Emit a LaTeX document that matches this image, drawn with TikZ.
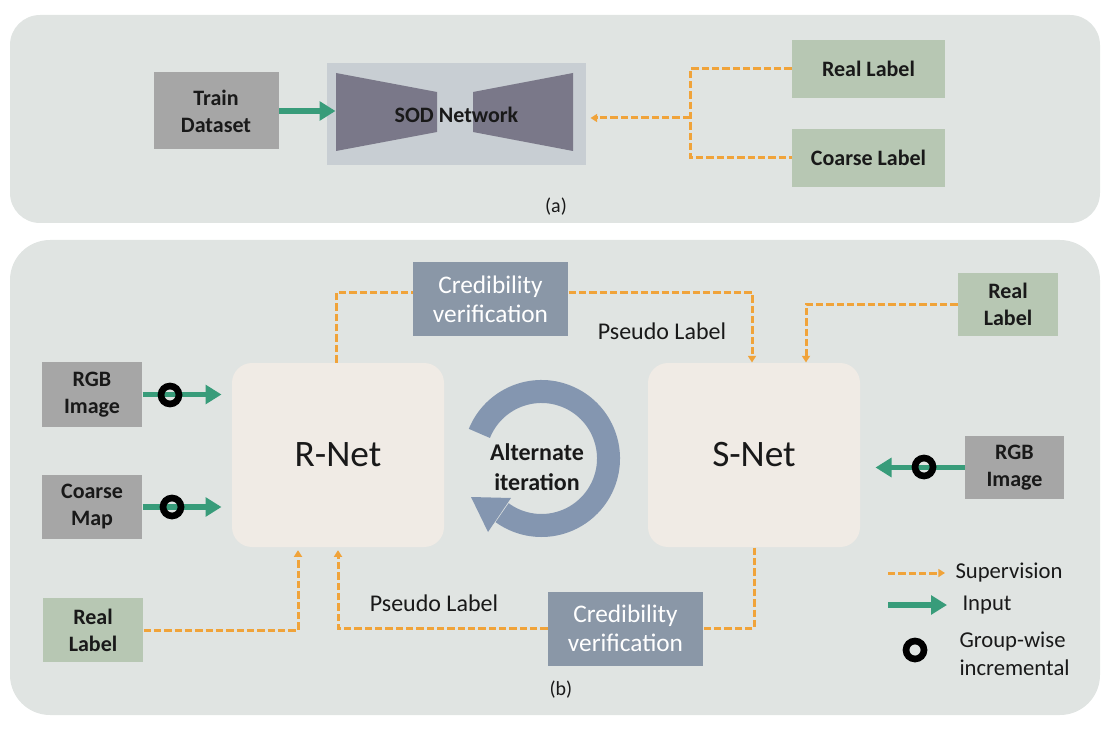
\documentclass[tikz,border=0pt]{standalone}
\usepackage{fontspec}
\setmainfont{Carlito}
\usetikzlibrary{arrows.meta}

\definecolor{panelfill}{RGB}{224,228,226}
\definecolor{boxgray}{RGB}{166,166,166}
\definecolor{boxgreen}{RGB}{183,199,179}
\definecolor{credfill}{RGB}{138,151,167}
\definecolor{netfill}{RGB}{240,235,229}
\definecolor{ringfill}{RGB}{132,150,176}
\definecolor{sodfill}{RGB}{200,206,211}
\definecolor{trapfill}{RGB}{122,120,137}
\definecolor{supcol}{RGB}{240,163,58}
\definecolor{incol}{RGB}{56,156,122}
\definecolor{txtcol}{RGB}{25,25,25}

\tikzset{every picture/.style={line width=0.75pt}}
\tikzset{
  labelbox/.style={rectangle, inner sep=0pt, align=center, text=txtcol, font=\fontsize{16.5pt}{20.25pt}\selectfont\bfseries},
  graybox/.style={labelbox, fill=boxgray},
  greenbox/.style={labelbox, fill=boxgreen},
  credbox/.style={rectangle, inner sep=0pt, fill=credfill, text=white, align=center, minimum width=116.25pt, minimum height=55.5pt, font=\fontsize{19pt}{21.75pt}\selectfont},
  netbox/.style={rectangle, rounded corners=15pt, fill=netfill, text=txtcol, minimum width=159pt, minimum height=138pt, font=\fontsize{28pt}{33pt}\selectfont},
  inarrow/.style={draw=incol, line width=4.25pt, -{Triangle[length=12pt,width=14pt]}},
  supline/.style={draw=supcol, line width=2.25pt, dash pattern=on 5.5pt off 2.25pt},
  suparrow/.style={supline, -{Triangle[length=5pt,width=6pt]}},
  grpring/.style={circle, draw=black, line width=5pt, minimum size=13.5pt, inner sep=0pt},
  plaintext/.style={inner sep=0pt, text=txtcol}
}

\begin{document}
\begin{tikzpicture}[x=0.75pt,y=0.75pt,yscale=-1,xscale=1]
\useasboundingbox (0,0) rectangle (1115,731);

%Shape: Rounded Rect (panel a)
\fill[panelfill, rounded corners=22.5pt] (10,15) rectangle (1100,223);
%Shape: Rounded Rect (panel b)
\fill[panelfill, rounded corners=30pt] (10,240) rectangle (1100,715);

% ---- panel (a)
\node[graybox, minimum width=93.75pt, minimum height=57.75pt] (train) at (216,111) {Train\\Dataset};
\node[rectangle, fill=sodfill, inner sep=0pt, minimum width=194.25pt, minimum height=76.5pt] (sodbg) at (456.5,114) {};
%Shape: Trapezoid
\fill[trapfill] (336,73) -- (437,92) -- (437,132) -- (336,151) -- cycle;
%Shape: Trapezoid
\fill[trapfill] (473,92) -- (573,73) -- (573,151) -- (473,132) -- cycle;
% Text Node
\node[plaintext, font=\fontsize{16.5pt}{20pt}\selectfont\bfseries] (sodtxt) at (456.5,115) {SOD Network};
\node[greenbox, minimum width=114.75pt, minimum height=43.5pt] (reala) at (868.5,69) {Real Label};
\node[greenbox, minimum width=114.75pt, minimum height=43.5pt] (coarsea) at (868.5,158) {Coarse Label};
\coordinate (junc) at (690,118);

%Straight Lines
\draw[inarrow, shorten >=-6.75pt] (train.east) -- (train.east -| sodbg.west);
%Dashed Lines
\draw[supline] (reala.west) -| (junc) |- (coarsea.west);
\draw[suparrow, shorten >=3pt] (junc) -- (junc -| sodbg.east);
% Text Node
\node[plaintext, font=\fontsize{15pt}{18pt}\selectfont] (capa) at (556,207) {(a)};

% ---- panel (b)
\node[netbox] (rnet) at (338,455) {R-Net};
\node[netbox] (snet) at (754,455) {S-Net};
\node[credbox] (credtop) at (490.5,299) {Credibility\\verification};
\node[credbox] (credbot) at (625.5,628.5) {Credibility\\verification};
\node[graybox, minimum width=75pt, minimum height=48.75pt] (rgbl) at (92,394.5) {RGB\\Image};
\node[graybox, minimum width=75pt, minimum height=48pt] (cmap) at (92,507) {Coarse\\Map};
\node[greenbox, minimum width=75pt, minimum height=48pt] (realbl) at (93,630) {Real\\Label};
\node[greenbox, minimum width=75pt, minimum height=47.25pt] (realtr) at (1008,304.5) {Real\\Label};
\node[graybox, minimum width=74.25pt, minimum height=47.25pt] (rgbr) at (1014.5,467.5) {RGB\\Image};

%Shape: Circular Arrow
\draw[ringfill, line width=17.25pt] (541.5,458.5) ++(-158:67) arc[start angle=-158, end angle=126, radius=67];
\fill[ringfill] (471,497) -- (511,498) -- (488,532) -- cycle;
% Text Node
\node[plaintext, align=center, font=\fontsize{18pt}{22.5pt}\selectfont\bfseries] (alttxt) at (537,467) {Alternate\\iteration};

%Straight Lines (input)
\draw[inarrow, shorten >=7.5pt] (rgbl.east) -- (rgbl.east -| rnet.west);
\node[grpring] (ringrgbl) at (170,395) {};
\draw[inarrow, shorten >=7.5pt] (cmap.east) -- (cmap.east -| rnet.west);
\node[grpring] (ringcmap) at (172,507) {};
\draw[inarrow, shorten >=11.25pt] (rgbr.west) -- (rgbr.west -| snet.east);
\node[grpring] (ringrgbr) at (924,467) {};

%Dashed Lines (supervision)
\draw[supline] ([xshift=-1.5pt]rnet.north) |- ([yshift=-4.5pt]credtop.west);
\draw[suparrow] ([yshift=-4.5pt]credtop.east) -| ([xshift=-1.5pt]snet.north);
\draw[suparrow] (realtr.west) -| ([xshift=39pt]snet.north);
\draw[supline] (snet.south) |- (credbot.east);
\draw[suparrow, shorten >=2pt] (credbot.west) -| (rnet.south);
\draw[suparrow, shorten >=2pt] (realbl.east) -| ([xshift=-30pt]rnet.south);

% Text Node
\node[plaintext, font=\fontsize{18pt}{21pt}\selectfont] (pseudot) at (662,331) {Pseudo Label};
% Text Node
\node[plaintext, font=\fontsize{18pt}{21pt}\selectfont] (pseudob) at (434,603) {Pseudo Label};

% Legend
\node[plaintext, anchor=west, font=\fontsize{17pt}{21pt}\selectfont] (lgsup) at (955,573) {Supervision};
\node[plaintext, anchor=west, font=\fontsize{17pt}{21pt}\selectfont] (lginp) at (962,605) {Input};
\node[plaintext, anchor=west, align=left, font=\fontsize{17pt}{21pt}\selectfont] (lggrp) at (959,654) {Group-wise\\incremental};
\draw[suparrow] ([xshift=-50.25pt]lgsup.west) -- ([xshift=-7.5pt]lgsup.west);
\draw[inarrow] ([xshift=-55.5pt]lginp.west) -- ([xshift=-11.25pt]lginp.west);
\node[grpring] (lgring) at (915,650) {};

% Text Node
\node[plaintext, font=\fontsize{15pt}{18pt}\selectfont] (capb) at (561,690) {(b)};

\end{tikzpicture}
\end{document}
